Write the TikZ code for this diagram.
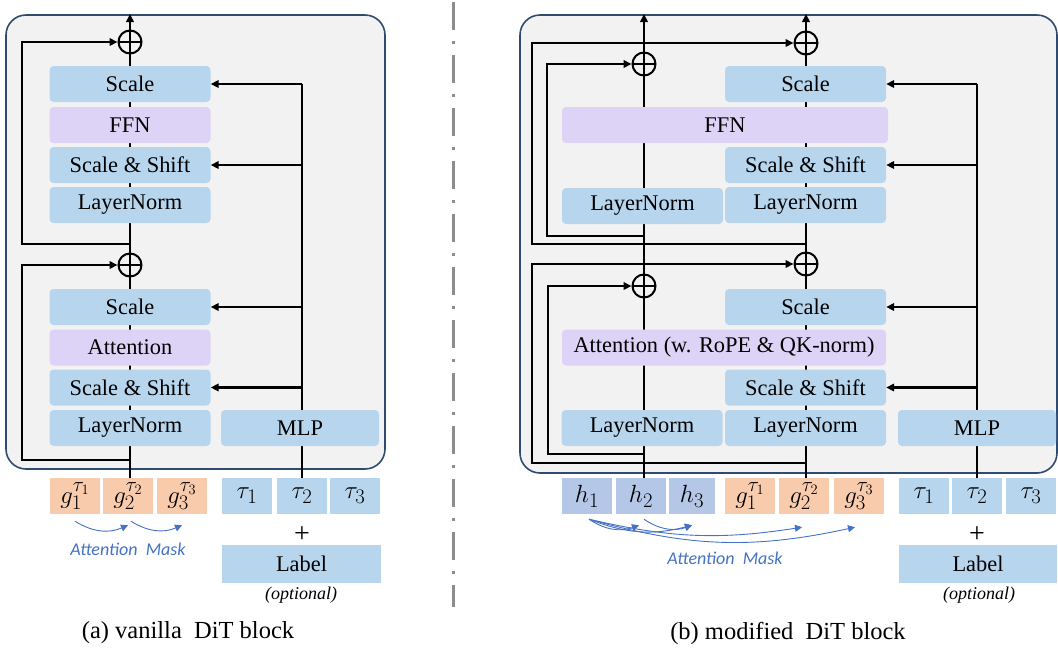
\documentclass[tikz,border=0pt]{standalone}
\usepackage{fontspec}
\setmainfont{Liberation Serif}
\newfontfamily\maskfont{Carlito}
\usepackage{tikz}
\usetikzlibrary{arrows.meta}

\definecolor{framecol}{HTML}{2F4B70}
\definecolor{panelbg}{HTML}{F2F2F2}
\definecolor{blkblue}{HTML}{B7D6EE}
\definecolor{ffnpurple}{HTML}{DDD3F6}
\definecolor{tokorange}{HTML}{F8CBAD}
\definecolor{tokhblue}{HTML}{B4C7E7}
\definecolor{maskblue}{HTML}{4472C4}
\definecolor{divgray}{HTML}{8C8C8C}

\pgfdeclarelayer{back}
\pgfdeclarelayer{lines}
\pgfsetlayers{back,lines,main}

\DeclareMathSizes{25}{24.88}{20.74}{14.4}
\newcommand{\blkfont}{\fontsize{22.4}{26}\selectfont}
\newcommand{\tokfont}{\fontsize{25}{28}\selectfont}

\begin{document}
\begin{tikzpicture}[x = 1pt, y = -1pt,
    >={Triangle[length=8pt, width=7.5pt]},
    frame/.style = {draw = framecol, fill = panelbg, line width = 1.6pt, rounded corners = 20pt},
    divider/.style = {divgray, line width = 3pt, dash pattern = on 28pt off 11pt on 3pt off 11pt},
    blk/.style = {fill = blkblue, rounded corners = 4pt, minimum width = 161pt, minimum height = 36pt, inner sep = 0pt, font = \blkfont},
    mix/.style = {blk, fill = ffnpurple},
    tok/.style = {minimum width = 50pt, minimum height = 36pt, inner sep = 0pt, font = \tokfont},
    tokg/.style = {tok, fill = tokorange},
    tokh/.style = {tok, fill = tokhblue},
    tokt/.style = {tok, fill = blkblue},
    labelbox/.style = {fill = blkblue, minimum width = 159pt, minimum height = 38pt, inner sep = 0pt, font = \blkfont},
    addop/.style = {circle, draw, line width = 2pt, minimum size = 23pt, inner sep = 0pt,
      path picture = {\draw [line width = 2pt] (path picture bounding box.west) -- (path picture bounding box.east)
                                               (path picture bounding box.north) -- (path picture bounding box.south);}},
    flow/.style = {line width = 2pt},
    feed/.style = {line width = 2.6pt},
    mask/.style = {maskblue, line width = 0.9pt, -{Triangle[length=7pt, width=7pt]}},
    masktxt/.style = {maskblue, font = \maskfont\itshape\fontsize{18}{20}\selectfont},
    opt/.style = {font = \itshape\fontsize{18}{20}\selectfont},
    caption/.style = {font = \fontsize{24.5}{28}\selectfont}]
  \useasboundingbox (0, 0) rectangle (1058, 649);

  \begin{pgfonlayer}{back}
    \draw [frame] (6, 15) rectangle (385, 469);
    \draw [frame] (520, 15) rectangle (1057, 473);
    \draw [divider] (453, 2) -- (453, 607);
  \end{pgfonlayer}

  % (a) vanilla block
  \node [blk] (sclA2) at (130, 84) {Scale};
  \node [mix] (ffnA) at (130, 125) {FFN};
  \node [blk] (ssA2) at (130, 165) {Scale \& Shift};
  \node [blk] (lnA2) at (130, 205) {LayerNorm};
  \node [blk] (sclA1) at (130, 307) {Scale};
  \node [mix] (attA) at (130, 347.5) {Attention};
  \node [blk] (ssA1) at (130, 387.5) {Scale \& Shift};
  \node [blk] (lnA1) at (130, 428) {LayerNorm};
  \node [blk, minimum width = 158pt] (mlpA) at (300, 428) {MLP};
  \node [addop] (addA2) at (130, 42) {};
  \node [addop] (addA1) at (130, 265) {};

  \node [tokg] (gA1) at (75, 496) {$g_1^{\tau_1}$};
  \node [tokg] (gA2) at (128, 496) {$g_2^{\tau_2}$};
  \node [tokg] (gA3) at (182, 496) {$g_3^{\tau_3}$};
  \node [tokt] (tA1) at (247, 496) {$\tau_1$};
  \node [tokt] (tA2) at (302, 496) {$\tau_2$};
  \node [tokt] (tA3) at (355, 496) {$\tau_3$};
  \node [font = \fontsize{28}{30}\selectfont] (plusA) at (302, 535) {+};
  \node [labelbox] (labA) at (301.5, 564) {Label};
  \node [opt] (optA) at (301, 595) {(optional)};
  \node [masktxt] (maskA) at (128, 549) {Attention\ \ Mask};
  \node [caption] (capA) at (188, 633) {(a) vanilla\ \ DiT block};

  \coordinate (outA) at (130, 14);
  \coordinate (tapA2) at (130, 244);
  \coordinate (tapA1) at (130, 460);

  \begin{pgfonlayer}{lines}
    \draw [flow, ->] (addA1 |- gA2.north) -- (outA);
    \draw [flow, ->] (tapA2) -| (22, 42) -- (addA2.west);
    \draw [flow, ->] (tapA1) -| (22, 265) -- (addA1.west);
    \draw [feed] (tA2.north) -- (tA2 |- sclA2.east);
    \foreach \b in {sclA2, ssA2, sclA1, ssA1}
      \draw [feed, ->] (tA2 |- \b.east) -- (\b.east);
  \end{pgfonlayer}

  \draw [mask] ([yshift = -7pt] gA1.south) to [bend right = 28] ([yshift = -11pt] gA2.south);
  \draw [mask] ([xshift = 3pt, yshift = -7pt] gA2.south) to [bend right = 28] ([yshift = -11pt] gA3.south);

  % (b) modified block
  \node [blk] (sclB2) at (805.5, 84) {Scale};
  \node [mix, minimum width = 326pt] (ffnB) at (725, 125) {FFN};
  \node [blk] (ssB2) at (805.5, 165) {Scale \& Shift};
  \node [blk] (lnBr2) at (805.5, 205) {LayerNorm};
  \node [blk] (lnBl2) at (642.5, 206) {LayerNorm};
  \node [blk] (sclB1) at (805.5, 307) {Scale};
  \node [mix, minimum width = 324pt] (attB) at (724, 347.5) {Attention (w. RoPE \& QK-norm)};
  \node [blk] (ssB1) at (805.5, 387.5) {Scale \& Shift};
  \node [blk] (lnBl1) at (642, 428) {LayerNorm};
  \node [blk] (lnBr1) at (805.5, 428) {LayerNorm};
  \node [blk, minimum width = 158pt] (mlpB) at (977, 428) {MLP};
  \node [addop] (addBr2) at (806, 43) {};
  \node [addop] (addBl2) at (644, 64) {};
  \node [addop] (addBr1) at (806, 264) {};
  \node [addop] (addBl1) at (644, 286) {};

  \node [tokh] (hB1) at (587, 496) {$h_1$};
  \node [tokh] (hB2) at (641, 496) {$h_2$};
  \node [tokh, minimum width = 46pt] (hB3) at (692, 496) {$h_3$};
  \node [tokg] (gB1) at (750, 496) {$g_1^{\tau_1}$};
  \node [tokg] (gB2) at (804, 496) {$g_2^{\tau_2}$};
  \node [tokg] (gB3) at (859, 496) {$g_3^{\tau_3}$};
  \node [tokt] (tB1) at (924, 496) {$\tau_1$};
  \node [tokt] (tB2) at (977, 496) {$\tau_2$};
  \node [tokt] (tB3) at (1031, 496) {$\tau_3$};
  \node [font = \fontsize{28}{30}\selectfont] (plusB) at (977, 535) {+};
  \node [labelbox, minimum width = 158pt] (labB) at (978, 564) {Label};
  \node [opt] (optB) at (979, 595) {(optional)};
  \node [masktxt] (maskB) at (725, 558) {Attention\ \ Mask};
  \node [caption] (capB) at (788, 633) {(b) modified\ \ DiT block};

  \coordinate (outBl) at (644, 14);
  \coordinate (outBr) at (806, 14);
  \coordinate (tapBl2) at (644, 236);
  \coordinate (tapBr2) at (806, 244);
  \coordinate (tapBl1) at (644, 454);
  \coordinate (tapBr1) at (806, 463);

  \begin{pgfonlayer}{lines}
    \draw [flow, ->] (addBl1 |- hB2.north) -- (outBl);
    \draw [flow, ->] (addBr1 |- gB2.north) -- (outBr);
    \draw [flow, ->] (tapBr2) -| (532, 43) -- (addBr2.west);
    \draw [flow, ->] (tapBl2) -| (547, 64) -- (addBl2.west);
    \draw [flow, ->] (tapBr1) -| (532, 264) -- (addBr1.west);
    \draw [flow, ->] (tapBl1) -| (548, 286) -- (addBl1.west);
    \draw [feed] (tB2.north) -- (tB2 |- sclB2.east);
    \foreach \b in {sclB2, ssB2, sclB1, ssB1}
      \draw [feed, ->] (tB2 |- \b.east) -- (\b.east);
  \end{pgfonlayer}

  \draw [mask] ([xshift = 2pt, yshift = -5pt] hB1.south) to [bend right = 27] ([xshift = -2pt, yshift = -11pt] hB2.south);
  \draw [mask] ([xshift = 2pt, yshift = -5pt] hB1.south) to [bend right = 18] ([yshift = -11pt] hB3.south);
  \draw [mask] ([xshift = 3pt, yshift = -5pt] hB2.south) to [bend right = 27] ([yshift = -11pt] hB3.south);
  \draw [mask] ([xshift = 2pt, yshift = -5pt] hB1.south) to [bend right = 11] ([xshift = -2pt, yshift = -13pt] gB2.south);
  \draw [mask] ([xshift = 2pt, yshift = -5pt] hB1.south) to [bend right = 14] ([xshift = -4pt, yshift = -13pt] gB3.south);
\end{tikzpicture}
\end{document}
